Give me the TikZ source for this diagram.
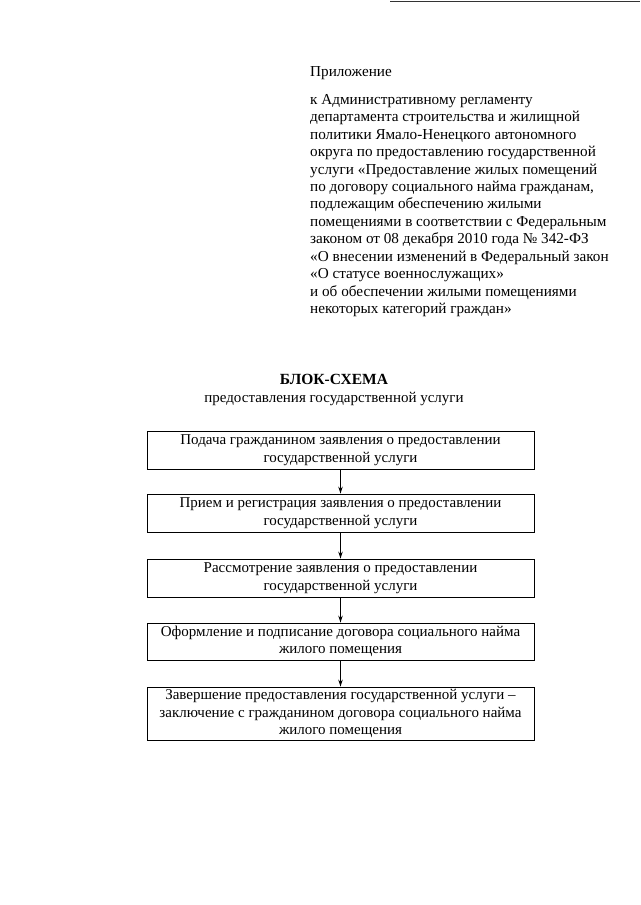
\documentclass[tikz,border=0pt]{standalone}
\usepackage{fontspec}
\setmainfont{Liberation Serif}
\usetikzlibrary{arrows.meta}
\tikzset{
  stepbox/.style={draw=black, line width=0.9pt, minimum width=387pt, align=center, inner sep=0pt, font=\fontsize{15}{17.5}\selectfont},
  flow/.style={draw=black, line width=0.9pt, -{Stealth[length=7pt,width=4.5pt]}},
  hdr/.style={font=\fontsize{15.2}{17.45}\selectfont, align=left, inner sep=0pt}
}
\begin{document}
\begin{tikzpicture}[x=1pt,y=-1pt]
\useasboundingbox (0,0) rectangle (640,905);
\fill[white] (0,0) rectangle (640,905);
\coordinate (tl) at (390,1.5);
\coordinate (tr) at (640,1.5);
\draw[line width=1.5pt, black!80] (tl) -- (tr);

\node[hdr, anchor=west] (app) at (310,73) {Приложение};
\node[hdr, anchor=north west] (reg) at (310,94) {к Административному регламенту\\
департамента строительства и жилищной\\
политики Ямало-Ненецкого автономного\\
округа по предоставлению государственной\\
услуги «Предоставление жилых помещений\\
по договору социального найма гражданам,\\
подлежащим обеспечению жилыми\\
помещениями в соответствии с Федеральным\\
законом от 08 декабря 2010 года № 342-ФЗ\\
«О внесении изменений в Федеральный закон\\
«О статусе военнослужащих»\\
и об обеспечении жилыми помещениями\\
некоторых категорий граждан»};

\node[font=\fontsize{15.5}{17}\selectfont\bfseries, inner sep=0pt] (title) at (334,379) {БЛОК-СХЕМА};
\node[font=\fontsize{15}{17}\selectfont, inner sep=0pt] (subtitle) at (334,399) {предоставления государственной услуги};

\node[stepbox, minimum height=38pt] (b1) at (340.5,450) {\raisebox{-2pt}{\parbox{387pt}{\centering Подача гражданином заявления о предоставлении\\государственной услуги}}};
\node[stepbox, minimum height=38pt] (b2) at (340.5,513) {\raisebox{-2pt}{\parbox{387pt}{\centering Прием и регистрация заявления о предоставлении\\государственной услуги}}};
\node[stepbox, minimum height=38pt] (b3) at (340.5,578) {\raisebox{-2pt}{\parbox{387pt}{\centering Рассмотрение заявления о предоставлении\\государственной услуги}}};
\node[stepbox, minimum height=37pt] (b4) at (340.5,641.5) {\raisebox{-1pt}{\parbox{387pt}{\centering Оформление и подписание договора социального найма\\жилого помещения}}};
\node[stepbox, minimum height=53pt] (b5) at (340.5,713.5) {\raisebox{-1pt}{\parbox{387pt}{\centering Завершение предоставления государственной услуги –\\заключение с гражданином договора социального найма\\жилого помещения}}};

\draw[flow] (b1.south) -- (b2.north);
\draw[flow] (b2.south) -- (b3.north);
\draw[flow] (b3.south) -- (b4.north);
\draw[flow] (b4.south) -- (b5.north);
\end{tikzpicture}
\end{document}
